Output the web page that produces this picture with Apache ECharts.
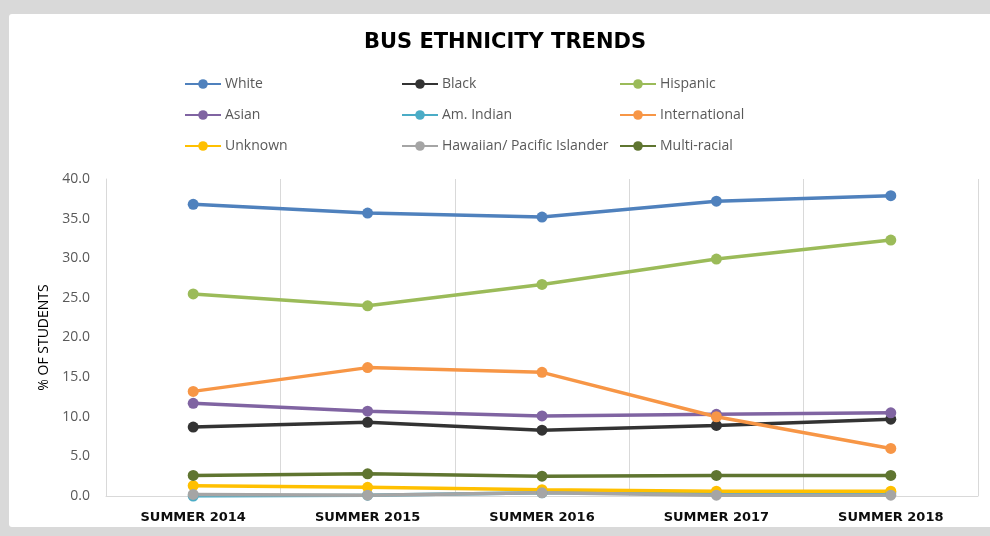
<!DOCTYPE html>
<html>
<head>
<meta charset="utf-8">
<script src="https://cdn.jsdelivr.net/npm/echarts@6/dist/echarts.min.js"></script>
<style>
  html, body { margin: 0; padding: 0; background: #d9d9d9; }
  #chart {
    position: absolute; left: 9px; top: 14px;
    width: 981px; height: 513px;
    background: #fff; border-radius: 3px 0 0 3px;
  }
</style>
</head>
<body>
<div id="chart"></div>
<script>
// categories
const years = ['SUMMER 2014', 'SUMMER 2015', 'SUMMER 2016', 'SUMMER 2017', 'SUMMER 2018']

// % of students
const white = [36.8, 35.7, 35.2, 37.2, 37.9]
const black = [8.7, 9.3, 8.3, 8.9, 9.7]
const hispanic = [25.5, 24.0, 26.7, 29.9, 32.3]
const asian = [11.7, 10.7, 10.1, 10.3, 10.5]
const amIndian = [0.0, 0.1, 0.4, 0.4, 0.4]
const international = [13.2, 16.2, 15.6, 10.0, 6.0]
const unknown = [1.3, 1.1, 0.8, 0.6, 0.6]
const hawaiian = [0.2, 0.1, 0.4, 0.1, 0.1]
const multiRacial = [2.6, 2.8, 2.5, 2.6, 2.6]

const names = ['White', 'Black', 'Hispanic', 'Asian', 'Am. Indian', 'International', 'Unknown', 'Hawaiian/ Pacific Islander', 'Multi-racial']
const values = [white, black, hispanic, asian, amIndian, international, unknown, hawaiian, multiRacial]
const colors = ['#4f81bd', '#333333', '#9bbb59', '#8064a2', '#4bacc6', '#f79646', '#ffc000', '#a5a5a5', '#5f7530']

const chart = echarts.init(document.getElementById('chart'))

// legend: three columns, three rows each
const legendCommon = {
  orient: 'vertical',
  top: 58,
  itemWidth: 36,
  itemHeight: 12,
  itemGap: 17,
  textStyle: { color: '#595959', fontSize: 14, fontFamily: 'Open Sans', padding: [0, 0, 0, -1] },
}

const option = {
  textStyle: { fontFamily: 'Open Sans' },
  title: {
    text: 'BUS ETHNICITY TRENDS',
    left: 491,
    textAlign: 'center',
    top: 13,
    textStyle: { fontSize: 21, fontWeight: 'bold', color: '#000', fontFamily: 'DejaVu Sans' },
  },
  legend: [
    Object.assign({ left: 170, data: [names[0], names[3], names[6]] }, legendCommon),
    Object.assign({ left: 387, data: [names[1], names[4], names[7]] }, legendCommon),
    Object.assign({ left: 605, data: [names[2], names[5], names[8]] }, legendCommon),
  ],
  grid: { left: 97, right: 12, top: 165, bottom: 31 },
  xAxis: {
    type: 'category',
    data: years,
    boundaryGap: true,
    axisLine: { lineStyle: { color: '#d9d9d9' } },
    axisTick: { show: false },
    splitLine: { show: true, lineStyle: { color: '#d9d9d9', width: 1 } },
    axisLabel: { color: '#0d0d0d', fontSize: 13, fontWeight: 'bold', fontFamily: 'DejaVu Sans', margin: 15, interval: 0 },
  },
  yAxis: {
    type: 'value',
    min: 0,
    max: 40,
    interval: 5,
    name: '% OF STUDENTS',
    nameLocation: 'middle',
    nameRotate: 90,
    nameGap: 53,
    nameTextStyle: { color: '#000', fontSize: 14 },
    axisLine: { show: true, lineStyle: { color: '#d9d9d9' } },
    axisTick: { show: false },
    splitLine: { show: false },
    axisLabel: { color: '#595959', fontSize: 14, margin: 16, formatter: (v) => v.toFixed(1) },
  },
  series: names.map((name, i) => ({
    name: name,
    type: 'line',
    data: values[i],
    symbol: 'circle',
    symbolSize: 11,
    lineStyle: { width: 3.5, color: colors[i] },
    itemStyle: { color: colors[i] },
    emphasis: { disabled: true },
    animation: false,
  })),
}

chart.setOption(option)
</script>
</body>
</html>
